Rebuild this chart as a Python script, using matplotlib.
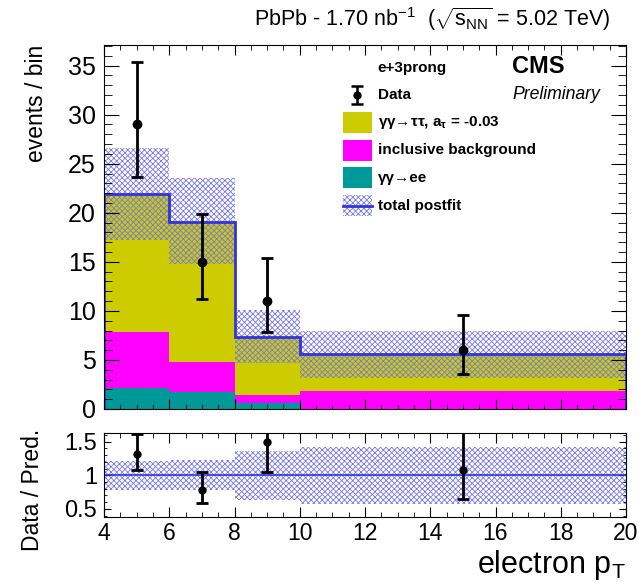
import numpy as np
import matplotlib
matplotlib.use("Agg")
import matplotlib.pyplot as plt
from matplotlib.patches import Rectangle
from matplotlib.ticker import MultipleLocator

plt.rcParams['font.family'] = ['Liberation Sans', 'DejaVu Sans']
plt.rcParams['mathtext.fontset'] = 'custom'
plt.rcParams['mathtext.rm'] = 'Liberation Sans'
plt.rcParams['mathtext.it'] = 'Liberation Sans:italic'
plt.rcParams['mathtext.bf'] = 'Liberation Sans:bold'
plt.rcParams['hatch.linewidth'] = 0.6

# ---------------- data ----------------
bin_edges = [4, 6, 8, 10, 20]
ee = [2.1, 1.77, 0.58, 0.0]          # gamma gamma -> ee
bkg = [5.7, 3.06, 0.85, 1.87]        # inclusive background
tautau = [14.1, 14.22, 5.95, 3.71]   # gamma gamma -> tau tau
band_low = [17.2, 14.8, 4.7, 3.2]    # total postfit uncertainty
band_high = [26.6, 23.5, 10.1, 7.96]
data_x = [5, 7, 9, 15]
data_y = [29, 15, 11, 6]
data_err_low = [5.4, 3.8, 3.2, 2.4]
data_err_high = [6.4, 4.9, 4.4, 3.6]

edges = np.array(bin_edges, float)
widths = np.diff(edges)
ee = np.array(ee); bkg = np.array(bkg); tautau = np.array(tautau)
total = ee + bkg + tautau
band_low = np.array(band_low); band_high = np.array(band_high)
dy = np.array(data_y, float)
elo = np.array(data_err_low); ehi = np.array(data_err_high)

c_tt = '#cccc00'
c_bkg = '#ff00ff'
c_ee = '#009999'
c_tot = '#3333dd'
c_hatch = '#7777ee'

fig = plt.figure(figsize=(6.39, 5.84), dpi=100)
ax = fig.add_axes([104/639, 1-409/584, 522/639, 364/584])
rax = fig.add_axes([104/639, 1-517/584, 522/639, 84/584])

# stacked histograms
ax.bar(edges[:-1], ee, width=widths, align='edge', color=c_ee, linewidth=0)
ax.bar(edges[:-1], bkg, width=widths, bottom=ee, align='edge', color=c_bkg, linewidth=0)
ax.bar(edges[:-1], tautau, width=widths, bottom=ee + bkg, align='edge', color=c_tt, linewidth=0)
# uncertainty band
ax.bar(edges[:-1], band_high - band_low, width=widths, bottom=band_low, align='edge',
       facecolor='none', edgecolor=c_hatch, hatch='xxxxxx', linewidth=0)
ax.stairs(total, edges, color=c_tot, linewidth=2)
ax.errorbar(data_x, dy, yerr=[elo, ehi], fmt='o', color='black', ms=6,
            elinewidth=2, capsize=4, capthick=2, zorder=5)

ax.set_xlim(4, 20)
ax.set_ylim(0, 37.1)
ax.yaxis.set_major_locator(MultipleLocator(5))
ax.yaxis.set_minor_locator(MultipleLocator(1))
ax.xaxis.set_major_locator(MultipleLocator(2))
ax.xaxis.set_minor_locator(MultipleLocator(0.5))
ax.tick_params(axis='both', which='both', direction='in', top=True, right=True)
ax.tick_params(axis='y', which='major', length=11, labelsize=18, pad=6)
ax.tick_params(axis='y', which='minor', length=5.5)
ax.tick_params(axis='x', which='major', length=7)
ax.tick_params(axis='x', which='minor', length=3.5)
ax.tick_params(axis='x', labelbottom=False)
ax.set_ylabel('events / bin', fontsize=16.5, loc='top', labelpad=14)

# ratio panel
ratio = dy / total
rax.bar(edges[:-1], (band_high - band_low) / total, width=widths, bottom=band_low / total,
        align='edge', facecolor='none', edgecolor=c_hatch, hatch='xxxxxx', linewidth=0)
rax.axhline(1.0, color=c_tot, linewidth=1.2)
rax.errorbar(data_x, ratio, yerr=[elo / total, ehi / total], fmt='o', color='black', ms=5,
             elinewidth=2, capsize=4, capthick=2, zorder=5)
rax.set_xlim(4, 20)
rax.set_ylim(0.38, 1.63)
rax.set_yticks([0.5, 1.0, 1.5])
rax.set_yticklabels(['0.5', '1', '1.5'])
rax.yaxis.set_minor_locator(MultipleLocator(0.1))
rax.xaxis.set_major_locator(MultipleLocator(2))
rax.xaxis.set_minor_locator(MultipleLocator(0.5))
rax.tick_params(axis='both', which='both', direction='in', top=True, right=True)
rax.tick_params(axis='y', which='major', length=5, labelsize=17, pad=5)
rax.tick_params(axis='y', which='minor', length=2.5)
rax.tick_params(axis='x', which='major', length=7, labelsize=16.5, pad=3.5)
rax.tick_params(axis='x', which='minor', length=3.5)
rax.set_ylabel('Data / Pred.', fontsize=16.5)
rax.yaxis.set_label_coords(-0.115, 0.32)

# x label
fig.text(0.979, 0.019, r'electron p$_{\mathrm{T}}$', ha='right', va='baseline', fontsize=22)

# title
fig.text(0.955, 0.968, r'PbPb - 1.70 nb$^{\mathrm{-1}}$  ($\sqrt{\mathrm{s}_{\mathrm{NN}}}$ = 5.02 TeV)',
         ha='right', va='center', fontsize=15.5)

# CMS labels
ax.text(0.831, 0.940, 'CMS', transform=ax.transAxes, ha='center', va='center',
        fontsize=17, fontweight='bold')
ax.text(0.866, 0.863, 'Preliminary', transform=ax.transAxes, ha='center', va='center',
        fontsize=12.7, style='italic')

# legend (manual)
lx_box0, lx_box1 = 0.458, 0.513
lx_text = 0.525
row_h = 0.076
ax.text(0.523, 0.936, 'e+3prong', transform=ax.transAxes, ha='left', va='center',
        fontsize=11, fontweight='bold')
ax.errorbar([0.4855], [0.863], yerr=[[0.025], [0.025]], fmt='o', color='black', ms=5,
            elinewidth=1.8, capsize=4, capthick=1.8, transform=ax.transAxes, clip_on=False)
ax.text(lx_text, 0.863, 'Data', transform=ax.transAxes, ha='left', va='center',
        fontsize=11, fontweight='bold')
entries = [(c_tt, r'γγ→ττ, a$_{\mathbf{τ}}$ = -0.03'),
           (c_bkg, 'inclusive background'),
           (c_ee, 'γγ→ee')]
for i, (c, lab) in enumerate(entries):
    yc = 0.787 - i * row_h
    ax.add_patch(Rectangle((lx_box0, yc - 0.029), lx_box1 - lx_box0, 0.058,
                           transform=ax.transAxes, facecolor=c, edgecolor='none'))
    ax.text(lx_text, yc, lab, transform=ax.transAxes, ha='left', va='center',
            fontsize=11, fontweight='bold')
yc = 0.787 - 3 * row_h
ax.add_patch(Rectangle((lx_box0, yc - 0.029), lx_box1 - lx_box0, 0.058,
                       transform=ax.transAxes, facecolor='none', edgecolor=c_hatch,
                       hatch='xxxxxx', linewidth=0))
ax.plot([lx_box0, lx_box1], [yc, yc], color=c_tot, lw=2, transform=ax.transAxes)
ax.text(lx_text, yc, 'total postfit', transform=ax.transAxes, ha='left', va='center',
        fontsize=11, fontweight='bold')

fig.savefig('out.png', dpi=100)
